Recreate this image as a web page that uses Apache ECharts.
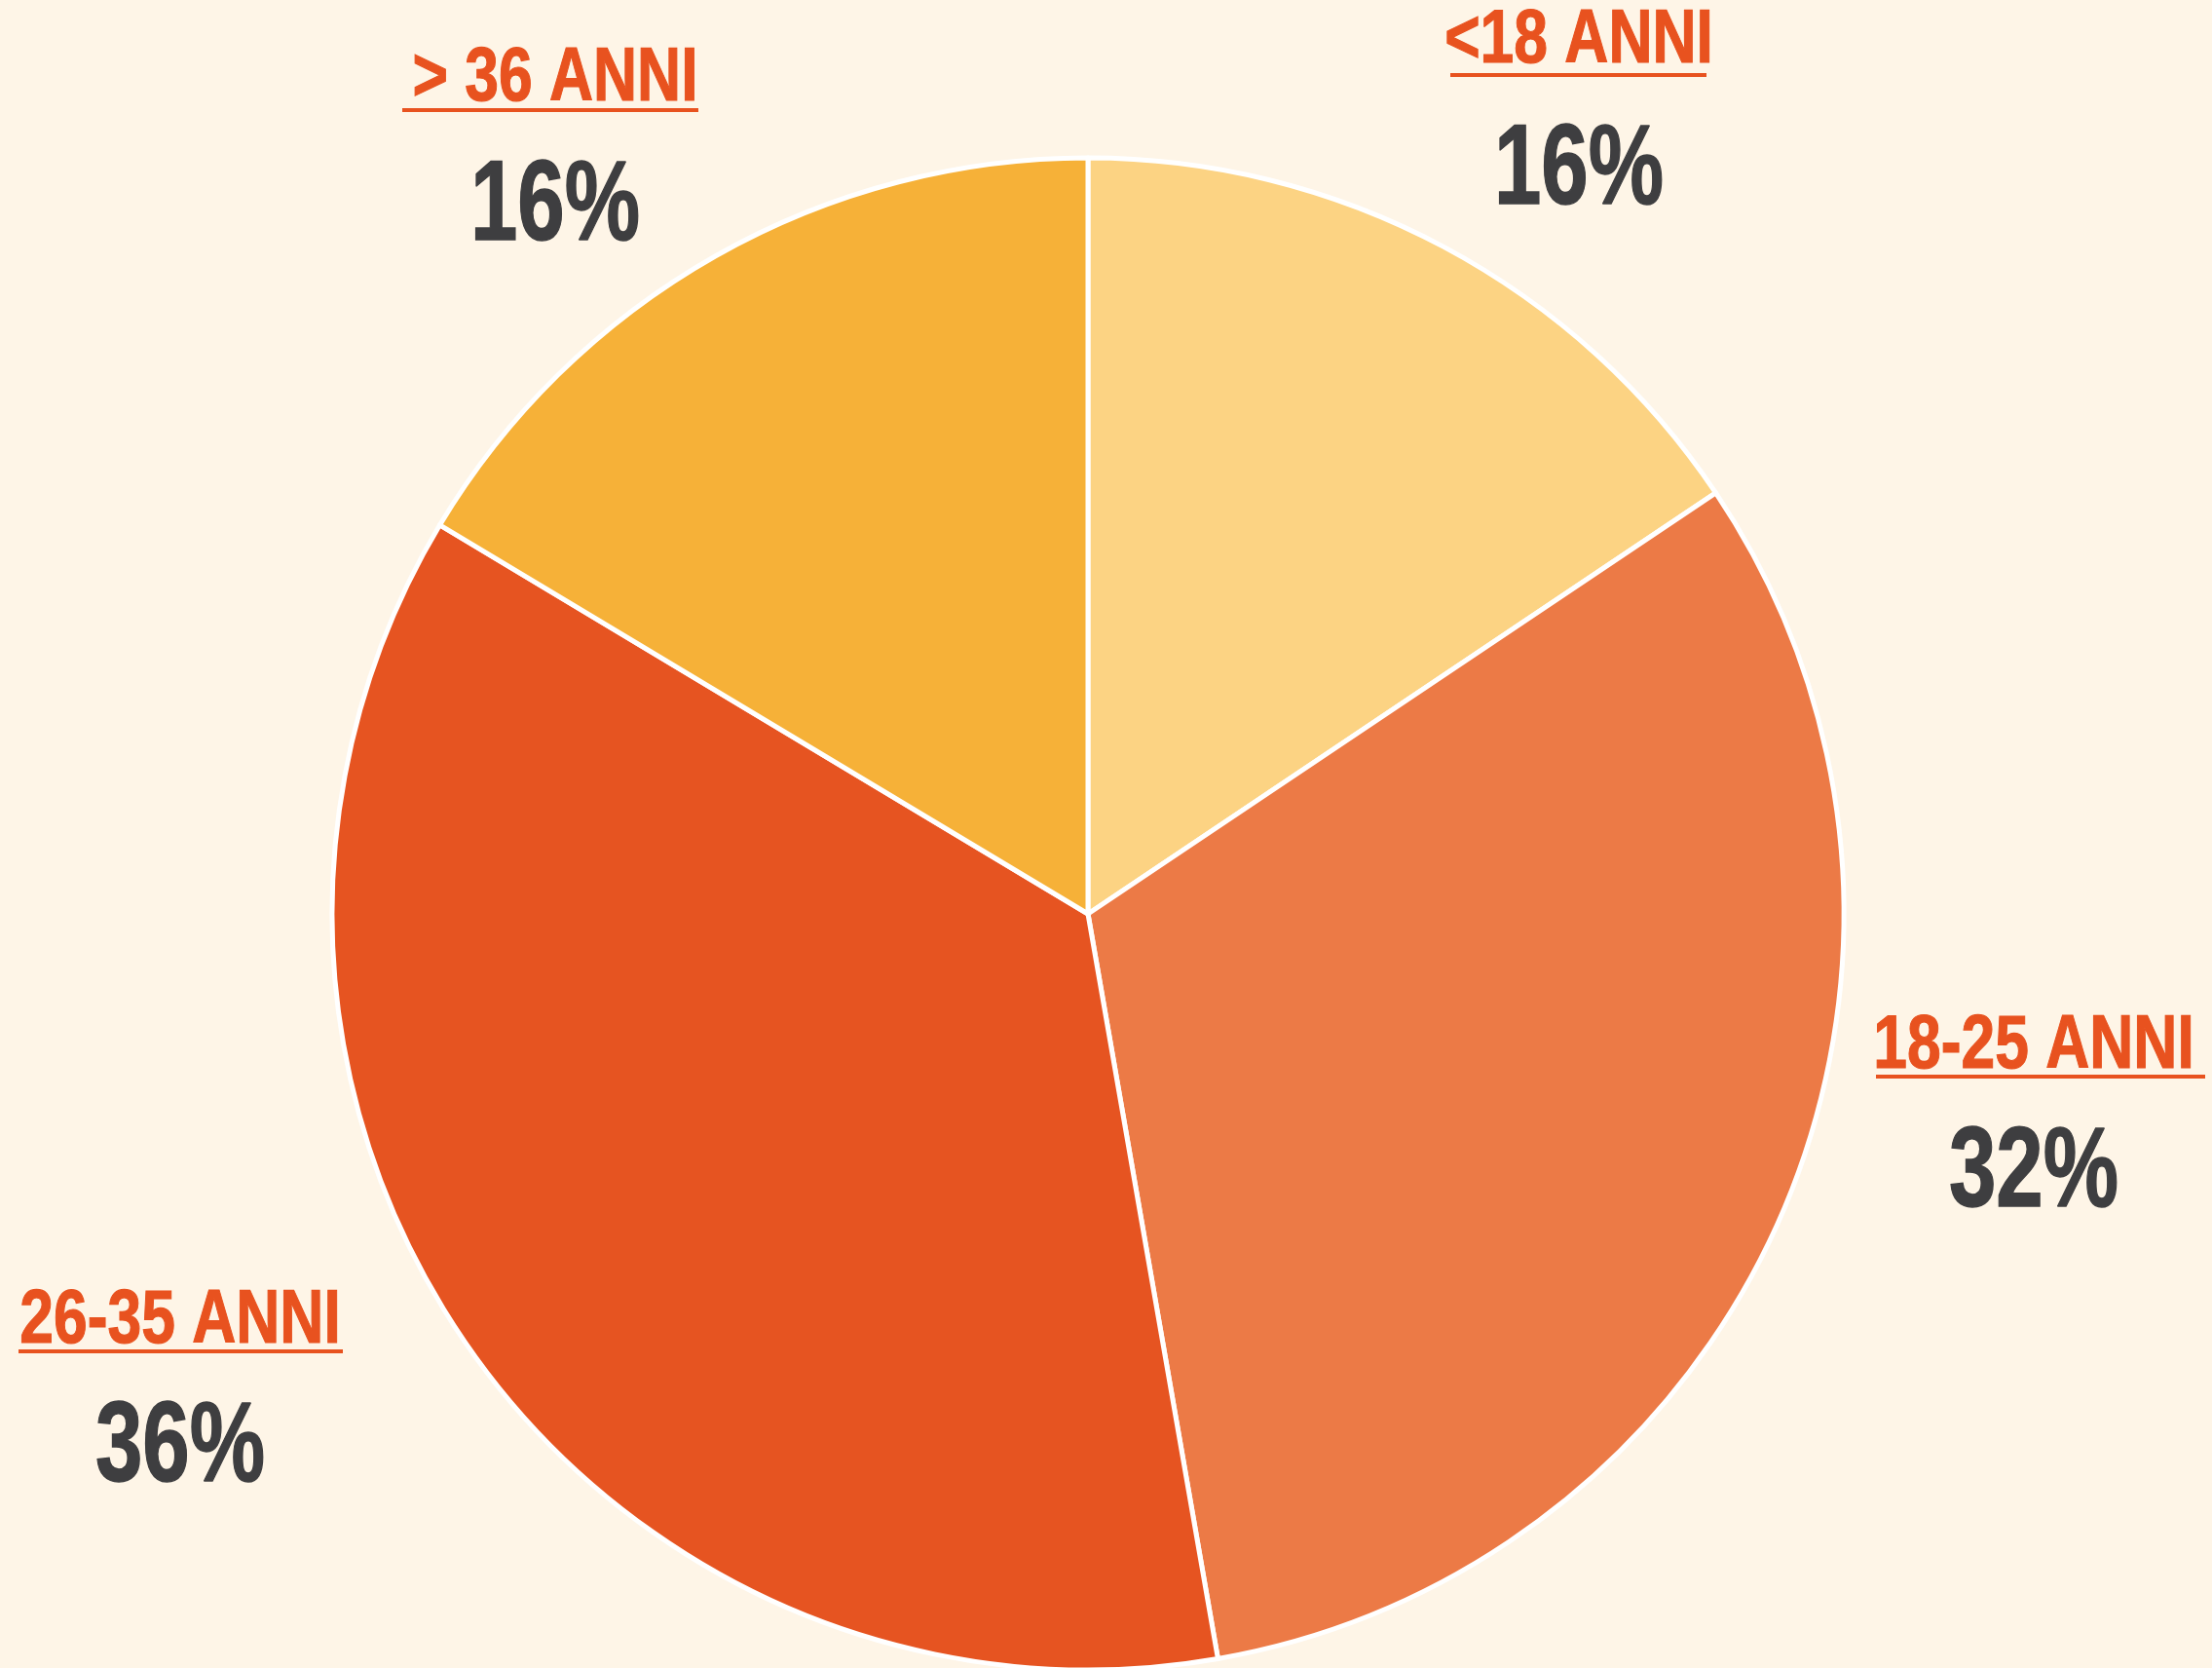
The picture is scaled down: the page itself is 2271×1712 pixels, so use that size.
<!DOCTYPE html>
<html>
<head>
<meta charset="utf-8">
<script src="https://cdn.jsdelivr.net/npm/echarts@6/dist/echarts.min.js"></script>
<style>
  html, body { margin: 0; padding: 0; background: #fef5e7; }
  #chart { width: 2271px; height: 1712px; }
</style>
</head>
<body>
<div id="chart"></div>
<script>
const categories = ['<18 ANNI', '18-25 ANNI', '26-35 ANNI', '> 36 ANNI'];
const values = [15.6, 31.65, 36.35, 16.4];
const colors = ['#fcd383', '#ec7a46', '#e65421', '#f6b138'];

// posizione etichette (centro x, riga nome, riga percentuale, sottolineatura)
const labelX = [1621, 2088, 185, 570];
const nameY = [42, 1074, 1356, 81];
const pctY = [177, 1206, 1488, 214];
const lineX = [[1489, 1752], [1926, 2264], [19, 352], [413, 717]];
const lineY = [77, 1105, 1387, 113];

const FONT = '"Liberation Sans", Arial, sans-serif';

const chart = echarts.init(document.getElementById('chart'), null, { renderer: 'canvas' });

let graphics = [];
for (let i = 0; i < categories.length; i++) {
    graphics.push({
        type: 'text',
        x: labelX[i], y: nameY[i],
        scaleX: 0.8,
        style: {
            text: categories[i],
            fill: '#e8521f',
            stroke: '#e8521f', lineWidth: 1.2,
            font: 'bold 78px ' + FONT,
            align: 'center', verticalAlign: 'middle'
        }
    });
    graphics.push({
        type: 'line',
        shape: { x1: lineX[i][0], y1: lineY[i], x2: lineX[i][1], y2: lineY[i] },
        style: { stroke: '#e8521f', lineWidth: 4 }
    });
    graphics.push({
        type: 'text',
        x: labelX[i], y: pctY[i],
        scaleX: 0.75,
        style: {
            text: Math.round(values[i]) + '%',
            fill: '#3e3e40',
            stroke: '#3e3e40', lineWidth: 1.5,
            font: 'bold 116px ' + FONT,
            align: 'center', verticalAlign: 'middle'
        }
    });
}

chart.setOption({
    backgroundColor: '#fef5e7',
    animation: false,
    color: colors,
    graphic: graphics,
    series: [{
        type: 'pie',
        center: [1117, 938],
        radius: 776,
        startAngle: 90,
        clockwise: true,
        label: { show: false },
        labelLine: { show: false },
        itemStyle: { borderColor: '#ffffff', borderWidth: 5 },
        data: categories.map(function (c, i) { return { name: c, value: values[i] }; })
    }]
});
</script>
</body>
</html>
